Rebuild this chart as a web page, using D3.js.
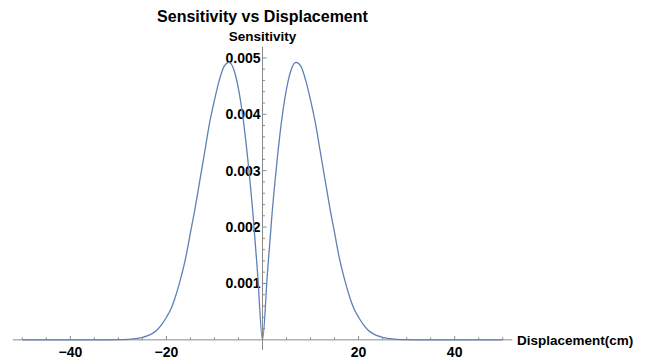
<!DOCTYPE html>
<html lang="en">
<head>
  <meta charset="UTF-8">
  <script src="https://d3js.org/d3.v7.min.js"></script>
  <style>
    body { margin: 0; background: #fff; }
    text { font-family: "Liberation Sans", Arial, sans-serif; font-weight: bold; fill: #000; }
  </style>
  <title>Sensitivity vs Displacement</title>
</head>
<body>
  <div id="chart"></div>
  <script>
    // displacement (cm) and sensitivity
    var displacement = [-50, -40, -35, -32, -30, -29, -28, -27, -26, -25, -24, -23, -22, -21, -20,
      -19, -18, -17, -16, -15, -14, -13, -12, -11, -10, -9, -8, -7, -6, -5, -4, -3, -2, -1, 0,
      1, 2, 3, 4, 5, 6, 7, 8, 9, 10, 11, 12, 13, 14, 15, 16, 17, 18, 19,
      20, 21, 22, 23, 24, 25, 26, 27, 28, 29, 30, 32, 35, 40, 50];
    var sensitivity = [0, 0, 0, 0.000001, 0.000003, 0.000005, 0.000009, 0.000016, 0.000027, 0.000045, 0.00007, 0.00011, 0.00017, 0.00027, 0.0004,
      0.00056, 0.0008, 0.0011, 0.00145, 0.0019, 0.00235, 0.00285, 0.00335, 0.00385, 0.00425, 0.0046, 0.00485, 0.00492, 0.0048, 0.00445, 0.0039, 0.00315, 0.00225, 0.00115, 0,
      0.00115, 0.00225, 0.00315, 0.0039, 0.00445, 0.0048, 0.00492, 0.00485, 0.0046, 0.00425, 0.00385, 0.00335, 0.00285, 0.00235, 0.0019, 0.00145, 0.0011, 0.0008, 0.00056,
      0.0004, 0.00027, 0.00017, 0.00011, 0.00007, 0.000045, 0.000027, 0.000016, 0.000009, 0.000005, 0.000003, 0.000001, 0, 0, 0];

    var xMajor = [-40, -20, 20, 40];
    var yMajor = [0.001, 0.002, 0.003, 0.004, 0.005];

    var width = 646, height = 359;
    var svg = d3.select("#chart").append("svg")
      .attr("width", width)
      .attr("height", height);

    var x = d3.scaleLinear().domain([-52, 52]).range([12.7, 512.3]);
    var y = d3.scaleLinear().domain([-0.00018, 0.0052]).range([350, 46.6]);

    var axisColor = "#8a8a8a";

    // x axis line + ticks (pointing up)
    svg.append("line")
      .attr("x1", x(-52)).attr("x2", x(52))
      .attr("y1", y(0)).attr("y2", y(0))
      .attr("stroke", axisColor).attr("stroke-width", 1);

    var xMinor = d3.range(-50, 51, 5).filter(function(d) { return d !== 0; });
    svg.selectAll(".xtick")
      .data(xMinor)
      .enter().append("line")
      .attr("class", "xtick")
      .attr("x1", function(d) { return x(d); })
      .attr("x2", function(d) { return x(d); })
      .attr("y1", y(0))
      .attr("y2", function(d) { return y(0) - (d % 20 === 0 ? 4 : 2.5); })
      .attr("stroke", axisColor);

    svg.selectAll(".xlab")
      .data(xMajor)
      .enter().append("text")
      .attr("class", "xlab")
      .attr("x", function(d) { return x(d); })
      .attr("y", y(0) + 17)
      .attr("text-anchor", "middle")
      .attr("font-size", 14)
      .text(function(d) { return d < 0 ? "\u2212" + Math.abs(d) : d; });

    // y axis line + ticks (pointing right)
    svg.append("line")
      .attr("x1", x(0)).attr("x2", x(0))
      .attr("y1", y(-0.00018)).attr("y2", y(0.0052))
      .attr("stroke", axisColor).attr("stroke-width", 1);

    var yMinor = d3.range(1, 26).map(function(i) { return i * 0.0002; });
    svg.selectAll(".ytick")
      .data(yMinor)
      .enter().append("line")
      .attr("class", "ytick")
      .attr("x1", x(0))
      .attr("x2", function(d, i) { return x(0) + ((i + 1) % 5 === 0 ? 4 : 2.5); })
      .attr("y1", function(d) { return y(d); })
      .attr("y2", function(d) { return y(d); })
      .attr("stroke", axisColor);

    svg.selectAll(".ylab")
      .data(yMajor)
      .enter().append("text")
      .attr("class", "ylab")
      .attr("x", x(0) - 2)
      .attr("y", function(d) { return y(d) + 5; })
      .attr("text-anchor", "end")
      .attr("font-size", 14)
      .text(function(d) { return d3.format(".3f")(d); });

    // curve
    var line = d3.line()
      .x(function(d, i) { return x(displacement[i]); })
      .y(function(d) { return y(d); })
      .curve(d3.curveMonotoneX);

    svg.append("path")
      .datum(sensitivity)
      .attr("d", line)
      .attr("fill", "none")
      .attr("stroke", "#5e81b5")
      .attr("stroke-width", 1.3);

    // titles
    svg.append("text")
      .attr("x", x(0))
      .attr("y", 22)
      .attr("text-anchor", "middle")
      .attr("font-size", 16)
      .text("Sensitivity vs Displacement");

    svg.append("text")
      .attr("x", x(0))
      .attr("y", 41)
      .attr("text-anchor", "middle")
      .attr("font-size", 13.5)
      .text("Sensitivity");

    svg.append("text")
      .attr("x", 517)
      .attr("y", y(0) + 5)
      .attr("font-size", 13.5)
      .text("Displacement(cm)");
  </script>
</body>
</html>
